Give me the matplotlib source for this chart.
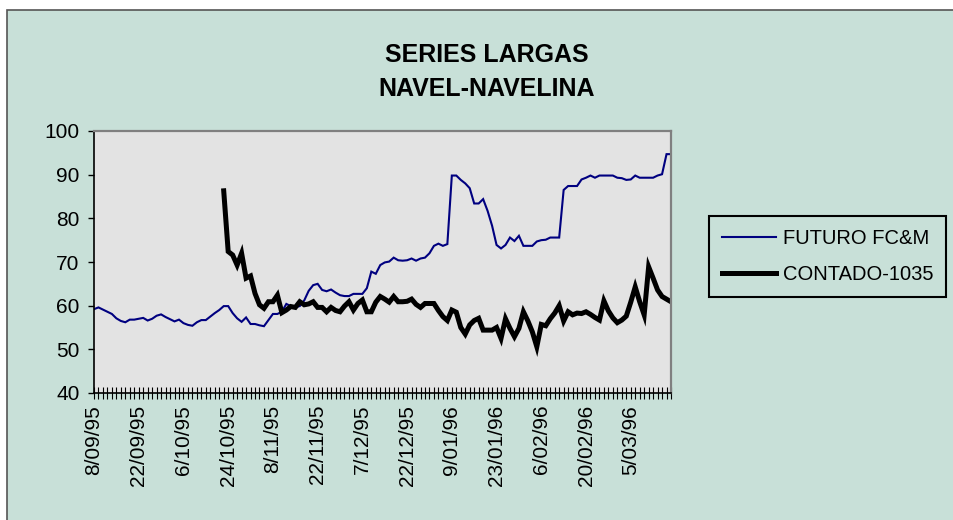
import matplotlib
matplotlib.use('Agg')
import matplotlib.pyplot as plt
from matplotlib.patches import Rectangle
import numpy as np

plt.rcParams['font.family'] = ['Liberation Sans', 'DejaVu Sans']

title_lines = ['SERIES LARGAS', 'NAVEL-NAVELINA']
series_names = ['FUTURO FC&M', 'CONTADO-1035']
date_labels = ['8/09/95', '22/09/95', '6/10/95', '24/10/95', '8/11/95', '22/11/95',
               '7/12/95', '22/12/95', '9/01/96', '23/01/96', '6/02/96', '20/02/96',
               '5/03/96']
label_step = 10
y_ticks = [40, 50, 60, 70, 80, 90, 100]

futuro = [
    59.2, 59.6, 59.1, 58.6, 58.1, 57.1, 56.5, 56.2, 56.8, 56.8,
    57.0, 57.2, 56.6, 57.0, 57.7, 58.0, 57.4, 56.9, 56.4, 56.8,
    56.0, 55.6, 55.4, 56.2, 56.7, 56.7, 57.5, 58.3, 59.0, 59.9,
    59.9, 58.3, 57.1, 56.3, 57.3, 55.8, 55.8, 55.5, 55.3, 56.7,
    58.1, 58.1, 58.6, 60.4, 59.9, 59.7, 59.9, 61.2, 63.4, 64.7,
    65.0, 63.6, 63.3, 63.7, 63.0, 62.4, 62.2, 62.2, 62.7, 62.7,
    62.7, 64.0, 67.8, 67.3, 69.3, 69.9, 70.1, 71.0, 70.4, 70.3,
    70.4, 70.8, 70.3, 70.8, 71.0, 72.0, 73.7, 74.2, 73.7, 74.1,
    89.8, 89.8, 88.8, 88.0, 86.9, 83.4, 83.4, 84.4, 81.7, 78.3,
    73.9, 73.1, 73.9, 75.6, 74.8, 76.0, 73.7, 73.7, 73.7, 74.7,
    75.0, 75.1, 75.6, 75.6, 75.6, 86.5, 87.4, 87.4, 87.4, 88.9,
    89.3, 89.8, 89.3, 89.8, 89.8, 89.8, 89.8, 89.3, 89.2, 88.8,
    88.9, 89.8, 89.3, 89.3, 89.3, 89.3, 89.8, 90.1, 94.7, 94.7,
]

contado = [np.nan] * 29 + [
    86.3, 72.4, 71.6, 69.3, 72.0, 66.3, 66.8, 62.8, 60.2, 59.4, 60.9,
    60.9, 62.4, 58.4, 59.0, 59.8, 59.6, 60.9, 60.2, 60.4, 60.9,
    59.6, 59.6, 58.6, 59.6, 58.9, 58.6, 59.9, 60.9, 59.0, 60.5,
    61.3, 58.6, 58.6, 60.8, 62.1, 61.5, 60.8, 62.1, 60.9, 60.9,
    61.0, 61.5, 60.3, 59.6, 60.5, 60.5, 60.5, 58.9, 57.5, 56.6,
    59.0, 58.5, 55.0, 53.5, 55.6, 56.6, 57.1, 54.4, 54.4, 54.4,
    55.0, 52.5, 57.0, 54.8, 52.9, 54.8, 58.6, 56.5, 54.0, 50.6,
    55.7, 55.4, 57.0, 58.3, 60.0, 56.5, 58.6, 57.9, 58.3, 58.2,
    58.6, 58.0, 57.3, 56.7, 61.1, 58.8, 57.2, 56.1, 56.7, 57.6,
    60.8, 64.3, 60.9, 57.9, 68.9, 66.3, 63.6, 62.1, 61.5, 60.9,
]

W, H = 954, 520
BG = '#C8E0D8'
PLOT_BG = '#E3E3E3'

fig = plt.figure(figsize=(W / 100, H / 100), dpi=100)
fig.patch.set_facecolor('white')
fig.add_artist(Rectangle((7 / W, -0.1), 1.2, 1.1 - 10 / H, transform=fig.transFigure,
                         facecolor=BG, edgecolor='#555555', lw=1.2, zorder=0))

ax = fig.add_axes([94 / W, 1 - 393 / H, (671 - 94) / W, (393 - 131) / H])
ax.set_facecolor(PLOT_BG)

x = np.arange(len(futuro))
ax.plot(x, futuro, color='#000080', lw=1.5, label=series_names[0], solid_joinstyle='miter')
ax.plot(x, contado, color='black', lw=3.6, label=series_names[1], solid_joinstyle='miter')

ax.set_xlim(0, len(futuro) - 1)
ax.set_ylim(40, 100)
ax.set_yticks(y_ticks)
ax.set_xticks(x)
labels = []
for i in x:
    k = i // label_step
    if i % label_step == 0 and k < len(date_labels):
        labels.append(date_labels[k])
    else:
        labels.append('')
ax.set_xticklabels(labels, rotation=90, va='top')
ax.tick_params(axis='x', direction='inout', length=9, width=0.8, pad=4, labelsize=15)
ax.tick_params(axis='y', direction='out', length=4.5, width=1, pad=6, labelsize=15)

for s in ['left', 'bottom']:
    ax.spines[s].set_color('black')
    ax.spines[s].set_linewidth(1.2)
for s in ['top', 'right']:
    ax.spines[s].set_color('#808080')
    ax.spines[s].set_linewidth(1.6)

fig.text(487 / W, 1 - 55 / H, title_lines[0], ha='center', va='center',
         fontsize=18, fontweight='bold')
fig.text(487 / W, 1 - 89 / H, title_lines[1], ha='center', va='center',
         fontsize=18, fontweight='bold')

leg = fig.legend(loc='upper left', bbox_to_anchor=(709 / W, 1 - 216 / H),
                 frameon=True, fancybox=False, edgecolor='black', facecolor=BG,
                 framealpha=1, fontsize=14.5, handlelength=2.7, handletextpad=0.3,
                 borderpad=0.65, labelspacing=0.85, borderaxespad=0)
leg.get_frame().set_linewidth(1.5)

fig.savefig('out.png', dpi=100, facecolor=fig.get_facecolor())
